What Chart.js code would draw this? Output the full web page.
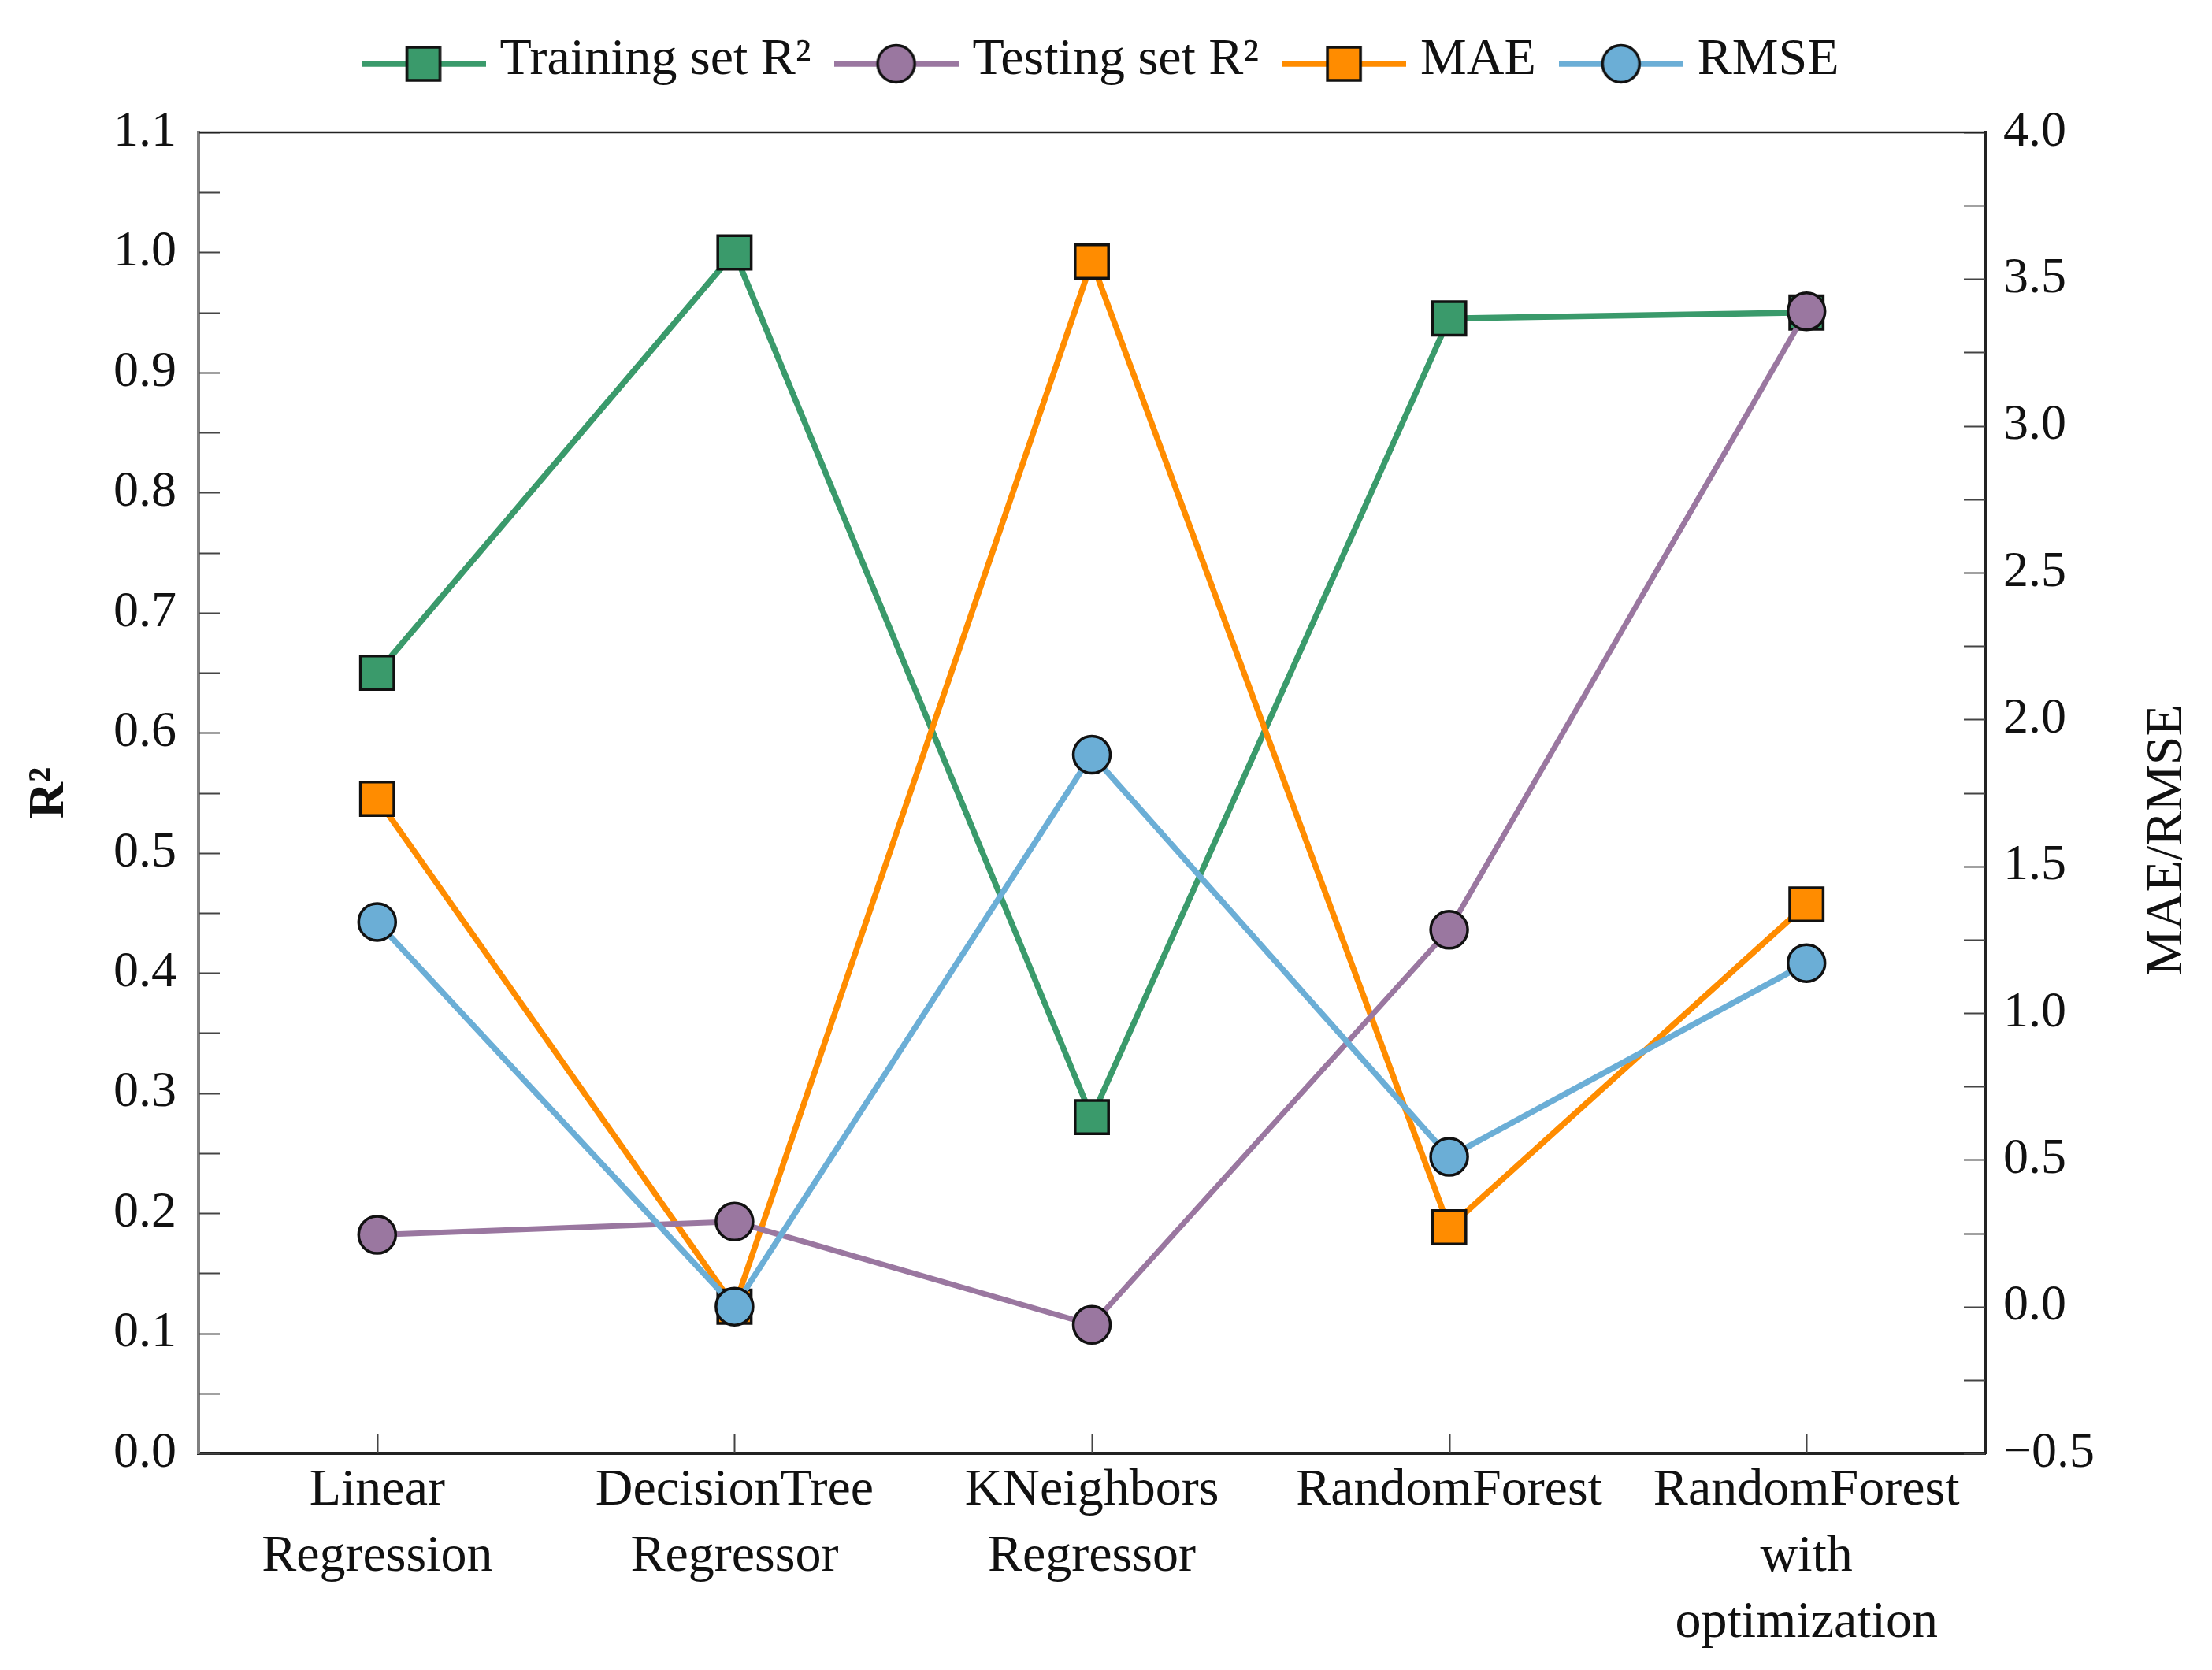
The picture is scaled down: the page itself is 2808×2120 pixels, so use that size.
<!DOCTYPE html>
<html><head><meta charset="utf-8">
<script src="https://cdn.jsdelivr.net/npm/chart.js@4"></script>
<style>html,body{margin:0;padding:0;background:#fff;}</style>
</head><body>
<canvas id="c" width="2808" height="2120" style="display:block;width:2808px;height:2120px"></canvas>
<script>
// ---- data ----
const categories = [["Linear","Regression"],["DecisionTree","Regressor"],["KNeighbors","Regressor"],"RandomForest",["RandomForest","with","optimization"]];
const seriesNames = ["Training set R\u00b2","Testing set R\u00b2","MAE","RMSE"];
const trainingR2 = [0.65, 1.00, 0.28, 0.945, 0.95];
const testingR2 = [0.182, 0.193, 0.107, 0.436, 0.951];
const maeValues = [1.73, 0.00, 3.56, 0.27, 1.37];
const rmseValues = [1.31, 0.00, 1.88, 0.51, 1.17];
const leftAxisTitle = "R\u00b2";
const rightAxisTitle = "MAE/RMSE";

// ---- styles ----
const FONT = "'Liberation Serif','Times New Roman',serif";
const FS = 64;
const FS_CAT = 66;
const colors = ["#3a9a6b", "#9a77a0", "#ff8c00", "#6baed6"];
const styles = ["rect", "circle", "rect", "circle"];

function legendIcon(color, style) {
  const cv = document.createElement('canvas');
  cv.width = 158; cv.height = 70;
  const g = cv.getContext('2d');
  const cy = 39;
  g.strokeStyle = color; g.lineWidth = 7.5;
  g.beginPath(); g.moveTo(0, cy); g.lineTo(158, cy); g.stroke();
  g.fillStyle = color; g.strokeStyle = '#111'; g.lineWidth = 3.5;
  g.beginPath();
  if (style === 'rect') { g.rect(79 - 21, cy - 21, 42, 42); }
  else { g.arc(79, cy, 23.5, 0, Math.PI * 2); }
  g.fill(); g.stroke();
  return cv;
}
const icons = colors.map((c, i) => legendIcon(c, styles[i]));

function ds(i, data, axis, order) {
  return {
    label: seriesNames[i], data: data, yAxisID: axis, order: order,
    borderColor: colors[i], backgroundColor: colors[i],
    borderWidth: i === 1 ? 7 : 7.5, tension: 0,
    pointStyle: styles[i], pointRadius: styles[i] === 'rect' ? 30 : 23.5,
    pointBorderColor: '#111', pointBorderWidth: 3.5,
    pointBackgroundColor: colors[i]
  };
}

const frameTicks = {
  id: 'frameTicks',
  afterInit(chart) {
    const lg = chart.legend;
    if (lg) {
      const f = lg.fit;
      lg.fit = function () { f.call(this); this.height = 168; };
    }
  },
  beforeDatasetsDraw(chart) {
    const {ctx, chartArea: a, scales} = chart;
    ctx.save();
    ctx.strokeStyle = '#444'; ctx.lineWidth = 2;
    ctx.beginPath();
    for (let k = 0; k <= 22; k++) {
      const p = Math.round(scales.y.getPixelForValue(k * 0.05)) + 0.5;
      ctx.moveTo(a.left, p); ctx.lineTo(a.left + 27, p);
    }
    for (let k = 0; k <= 18; k++) {
      const p = Math.round(scales.y1.getPixelForValue(-0.5 + k * 0.25)) + 0.5;
      ctx.moveTo(a.right - 27, p); ctx.lineTo(a.right, p);
    }
    for (let i = 0; i < categories.length; i++) {
      const p = Math.round(scales.x.getPixelForValue(i)) + 0.5;
      ctx.moveTo(p, a.bottom); ctx.lineTo(p, a.bottom - 25);
    }
    ctx.stroke();
    ctx.strokeStyle = '#222'; ctx.lineWidth = 2.5;
    ctx.beginPath(); ctx.moveTo(a.left, a.top); ctx.lineTo(a.right, a.top); ctx.stroke();
    ctx.restore();
  },
  afterDraw(chart) {
    const {ctx, chartArea: a} = chart;
    ctx.save();
    ctx.fillStyle = '#111';
    ctx.textAlign = 'center'; ctx.textBaseline = 'middle';
    ctx.translate(63, (a.top + a.bottom) / 2);
    ctx.rotate(-Math.PI / 2);
    ctx.font = 'bold ' + FS + 'px ' + FONT;
    ctx.fillText(leftAxisTitle, 0, 0);
    ctx.restore();
    ctx.save();
    ctx.fillStyle = '#111';
    ctx.textAlign = 'center'; ctx.textBaseline = 'middle';
    ctx.translate(2752, (a.top + a.bottom) / 2 + 60);
    ctx.rotate(-Math.PI / 2);
    ctx.font = FS_CAT + 'px ' + FONT;
    ctx.fillText(rightAxisTitle, 0, 0);
    ctx.restore();
  }
};

const tickFont = {family: FONT, size: FS_CAT, lineHeight: 1.27};

new Chart(document.getElementById('c'), {
  type: 'line',
  data: {
    labels: categories,
    datasets: [
      ds(0, trainingR2, 'y', 4),
      ds(1, testingR2, 'y', 2),
      ds(2, maeValues, 'y1', 3),
      ds(3, rmseValues, 'y1', 1)
    ]
  },
  options: {
    responsive: false, devicePixelRatio: 1, animation: false, events: [],
    layout: {padding: 0},
    plugins: {
      tooltip: {enabled: false},
      legend: {
        position: 'top',
        labels: {
          usePointStyle: true, pointStyleWidth: 128,
          font: {family: FONT, size: FS_CAT}, color: '#111', padding: 44,
          generateLabels(chart) {
            return chart.data.datasets.map((d, i) => ({
              text: d.label, pointStyle: icons[i], fillStyle: colors[i],
              strokeStyle: colors[i], lineWidth: 0, hidden: false, datasetIndex: i, fontColor: '#111'
            }));
          }
        }
      }
    },
    scales: {
      x: {
        type: 'category', offset: true,
        grid: {display: false, drawTicks: false},
        border: {display: true, color: '#222', width: 4},
        ticks: {font: tickFont, color: '#111', padding: 6, maxRotation: 0, autoSkip: false},
        afterFit(s) { s.height = 275; }
      },
      y: {
        position: 'left', min: 0, max: 1.1,
        grid: {display: false, drawTicks: false},
        border: {display: true, color: '#808080', width: 4},
        ticks: {stepSize: 0.1, font: {family: FONT, size: FS}, color: '#111', padding: 28,
          callback: v => Number(v).toFixed(1)},
        afterFit(s) { s.width = 252; }
      },
      y1: {
        position: 'right', min: -0.5, max: 4.0,
        grid: {display: false, drawTicks: false},
        border: {display: true, color: '#222', width: 4},
        ticks: {stepSize: 0.5, font: {family: FONT, size: FS}, color: '#111', padding: 23,
          callback: v => { const t = Math.abs(v).toFixed(1); return v < -1e-9 ? '\u2212' + t : t; }},
        afterFit(s) { s.width = 288; }
      }
    }
  },
  plugins: [frameTicks]
});
</script>
</body></html>
